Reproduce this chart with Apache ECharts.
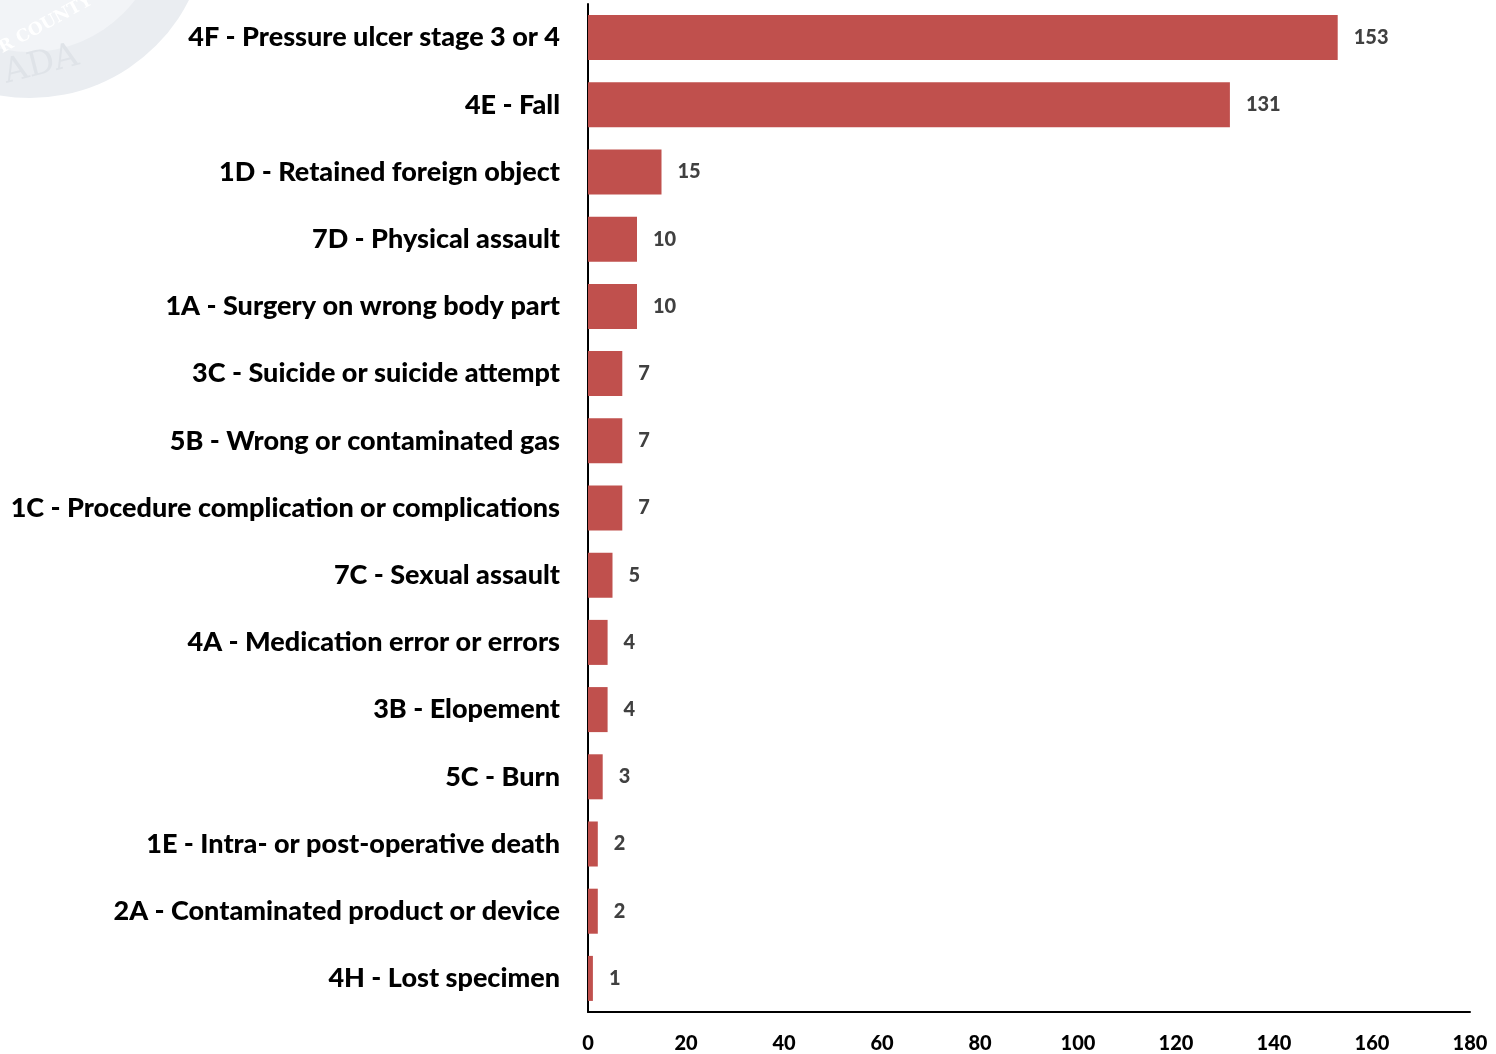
<!DOCTYPE html>
<html>
<head>
<meta charset="utf-8">
<script src="https://cdn.jsdelivr.net/npm/echarts@6/dist/echarts.min.js"></script>
<style>
html,body{margin:0;padding:0;background:#fff;}
#chart{width:1496px;height:1054px;}
</style>
</head>
<body>
<div id="chart"></div>
<script>
const categories = [
  "4F - Pressure ulcer stage 3 or 4",
  "4E - Fall",
  "1D - Retained foreign object",
  "7D - Physical assault",
  "1A - Surgery on wrong body part",
  "3C - Suicide or suicide attempt",
  "5B - Wrong or contaminated gas",
  "1C - Procedure complication or complications",
  "7C - Sexual assault",
  "4A - Medication error or errors",
  "3B - Elopement",
  "5C - Burn",
  "1E - Intra- or post-operative death",
  "2A - Contaminated product or device",
  "4H - Lost specimen"
];
const values = [153, 131, 15, 10, 10, 7, 7, 7, 5, 4, 4, 3, 2, 2, 1];
const xTicks = [0, 20, 40, 60, 80, 100, 120, 140, 160, 180];

const chart = echarts.init(document.getElementById('chart'));
chart.setOption({
  animation: false,
  backgroundColor: '#ffffff',
  graphic: [
    { type: 'circle', shape: { cx: 30, cy: -80, r: 178 }, style: { fill: '#eaedf1' }, z: -10 },
    { type: 'circle', shape: { cx: 30, cy: -80, r: 132 }, style: { fill: '#f2f4f7' }, z: -10 },
    { type: 'text', x: 0, y: 58, rotation: 0.25, style: { text: 'ADA', fill: '#dfe3e8', font: '34px "DejaVu Serif"' }, z: -9 },
    { type: 'text', x: -4, y: 42, rotation: 0.5, style: { text: 'R COUNTY', fill: '#ffffff', font: 'bold 17px "DejaVu Serif"' }, z: -9 }
  ],
  grid: { left: 588, right: 26, top: 4, bottom: 42, containLabel: false },
  xAxis: {
    type: 'value',
    min: 0, max: 180, interval: 20,
    axisLine: { show: true, lineStyle: { color: '#000', width: 2 } },
    axisTick: { show: false },
    splitLine: { show: false },
    axisLabel: {
      color: '#000', fontFamily: 'Lato', fontWeight: 900, fontSize: 20, margin: 22,
      formatter: v => xTicks.includes(v) ? String(v) : ''
    }
  },
  yAxis: {
    type: 'category',
    data: categories,
    inverse: true,
    axisLine: { show: true, lineStyle: { color: '#000', width: 2 } },
    axisTick: { show: false },
    axisLabel: { color: '#000', fontFamily: 'Lato', fontWeight: 900, fontSize: 27, margin: 28 }
  },
  series: [{
    type: 'bar',
    data: values,
    barCategoryGap: '33%',
    itemStyle: { color: '#c0504d' },
    label: {
      show: true, position: 'right', distance: 16,
      color: '#404040', fontFamily: 'Lato', fontWeight: 900, fontSize: 20
    }
  }]
});
</script>
</body>
</html>
